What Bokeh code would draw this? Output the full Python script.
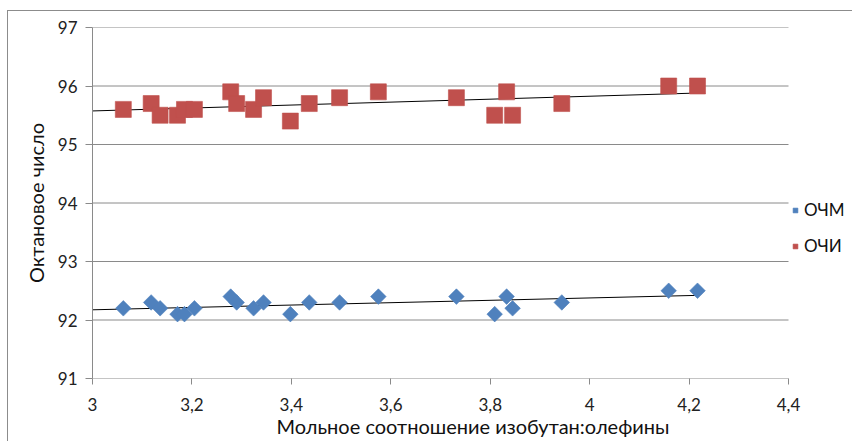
import numpy as np
from bokeh.plotting import figure
from bokeh.models import FixedTicker, Legend, LegendItem
from bokeh.embed import file_html
from bokeh.resources import INLINE

# Data
ratio = [3.062, 3.118, 3.136, 3.171, 3.185, 3.205, 3.278, 3.290, 3.324, 3.344, 3.398,
         3.436, 3.497, 3.575, 3.732, 3.809, 3.833, 3.845, 3.944, 4.159, 4.217]
ochm = [92.2, 92.3, 92.2, 92.1, 92.1, 92.2, 92.4, 92.3, 92.2, 92.3, 92.1,
        92.3, 92.3, 92.4, 92.4, 92.1, 92.4, 92.2, 92.3, 92.5, 92.5]
ochi = [95.6, 95.7, 95.5, 95.5, 95.6, 95.6, 95.9, 95.7, 95.6, 95.8, 95.4,
        95.7, 95.8, 95.9, 95.8, 95.5, 95.9, 95.5, 95.7, 96.0, 96.0]
x_ticks = [3.0, 3.2, 3.4, 3.6, 3.8, 4.0, 4.2, 4.4]
x_tick_labels = ["3", "3,2", "3,4", "3,6", "3,8", "4", "4,2", "4,4"]
y_ticks = [91, 92, 93, 94, 95, 96, 97]

FONT = "Lato"
GRAY = "#8a8a8a"
BLUE = "#4F81BD"
RED = "#C0504D"

# plot area: 3..4.4 spans 696 px; the legend strip to the right (65 px) is part of the frame
x_min, x_max = x_ticks[0], x_ticks[-1]
extra = 65 * (x_max - x_min) / 696

p = figure(width=845, height=431, output_backend="svg", toolbar_location=None,
           x_range=(x_min, x_max + extra), y_range=(91, 97),
           min_border_left=84, min_border_right=0, min_border_top=16, min_border_bottom=64)
p.styles = {"border-top": "1px solid #8c8c8c", "border-left": "1px solid #8c8c8c",
            "margin-left": "7px", "margin-top": "10px"}
p.outline_line_color = None
p.xgrid.visible = False
p.ygrid.visible = False

# horizontal gridlines only over the data area (includes the x-axis line at 91)
p.segment(x0=[x_min] * len(y_ticks), x1=[x_max] * len(y_ticks), y0=y_ticks, y1=y_ticks,
          line_color=GRAY, line_width=1)

p.xaxis.ticker = FixedTicker(ticks=x_ticks)
p.xaxis.major_label_overrides = {t: l for t, l in zip(x_ticks, x_tick_labels)}
p.yaxis.ticker = FixedTicker(ticks=y_ticks)
for ax in (p.xaxis, p.yaxis):
    ax.axis_line_color = GRAY
    ax.major_tick_line_color = GRAY
    ax.minor_tick_line_color = None
    ax.major_tick_in = 0
    ax.major_tick_out = 6
    ax.major_label_text_font = FONT
    ax.major_label_text_font_size = "17px"
    ax.major_label_text_color = "#222222"
    ax.axis_label_text_font = FONT
    ax.axis_label_text_font_size = "20px"
    ax.axis_label_text_font_style = "normal"
    ax.axis_label_text_color = "#111111"
p.xaxis.axis_line_color = None
p.yaxis.major_tick_out = 7
p.xaxis.axis_label = "Мольное соотношение изобутан:олефины"
p.yaxis.axis_label = "Октановое число"
p.xaxis.major_label_standoff = 13
p.xaxis.axis_label_standoff = 0
p.yaxis.major_label_standoff = 8
p.yaxis.axis_label_standoff = 7

# trendlines (linear fits)
xs = np.array(ratio)
for ys in (ochm, ochi):
    k, b = np.polyfit(xs, np.array(ys), 1)
    xl = [x_min, xs.max()]
    p.line(xl, [k * xl[0] + b, k * xl[1] + b], line_color="#000000", line_width=1)

r_m = p.scatter(ratio, ochm, marker="square", size=11, angle=np.pi / 4,
                fill_color=BLUE, line_color=BLUE, line_alpha=0.6)
r_i = p.scatter(ratio, ochi, marker="square", size=16,
                fill_color=RED, line_color=RED, line_alpha=0.6)

legend = Legend(items=[LegendItem(label="ОЧМ", renderers=[r_m]),
                       LegendItem(label="ОЧИ", renderers=[r_i])],
                location=(697, 122), orientation="vertical",
                border_line_color=None, background_fill_alpha=0,
                label_text_font=FONT, label_text_font_size="17px",
                label_text_color="#111111",
                glyph_width=12, glyph_height=20, label_height=20,
                spacing=15, padding=0, margin=0, label_standoff=3)
p.add_layout(legend, "center")

open("out.html", "w").write(file_html(p, INLINE))
